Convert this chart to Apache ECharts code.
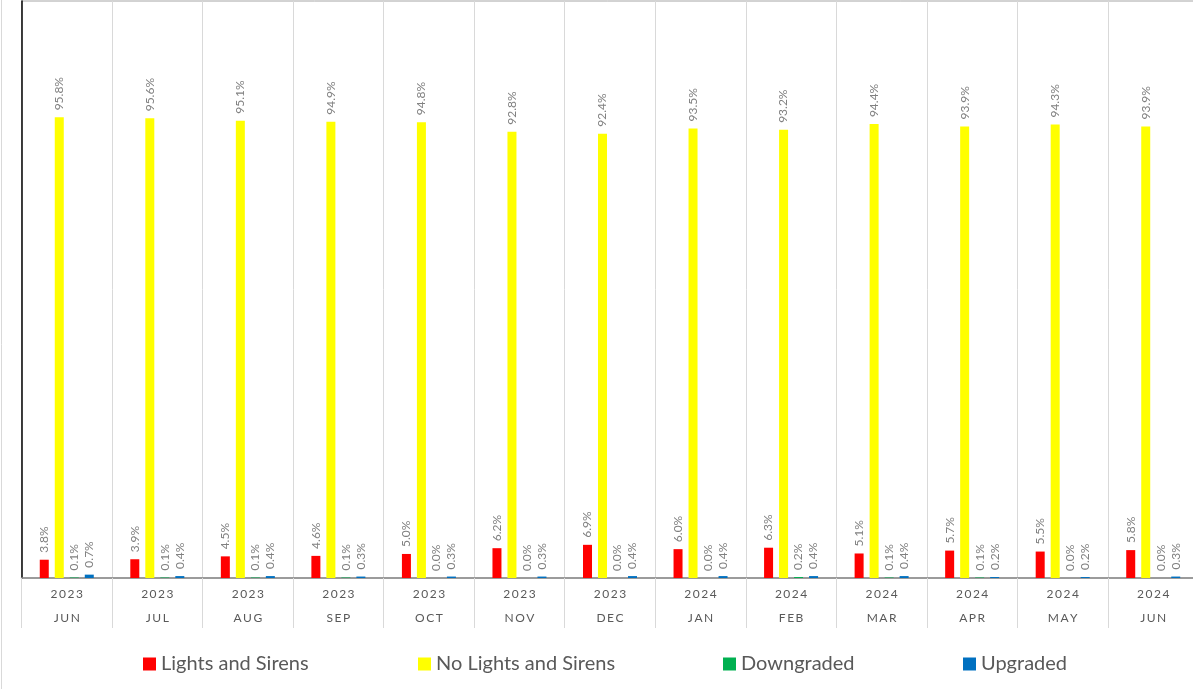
<!DOCTYPE html>
<html>
<head>
<meta charset="utf-8">
<script src="https://cdn.jsdelivr.net/npm/echarts@6/dist/echarts.min.js"></script>
<style>
html,body{margin:0;padding:0;background:#fff;}
#main{width:1193px;height:689px;}
</style>
</head>
<body>
<div id="main"></div>
<script>
const years = ['2023','2023','2023','2023','2023','2023','2023','2024','2024','2024','2024','2024','2024'];
const months = ['JUN','JUL','AUG','SEP','OCT','NOV','DEC','JAN','FEB','MAR','APR','MAY','JUN'];
const lightsAndSirens = [3.8,3.9,4.5,4.6,5.0,6.2,6.9,6.0,6.3,5.1,5.7,5.5,5.8];
const noLightsAndSirens = [95.8,95.6,95.1,94.9,94.8,92.8,92.4,93.5,93.2,94.4,93.9,94.3,93.9];
const downgraded = [0.1,0.1,0.1,0.1,0.0,0.0,0.0,0.0,0.2,0.1,0.1,0.0,0.0];
const upgraded = [0.7,0.4,0.4,0.3,0.3,0.3,0.4,0.4,0.4,0.4,0.2,0.2,0.3];
const seriesNames = ['Lights and Sirens','No Lights and Sirens','Downgraded','Upgraded'];

const categories = years.map((y,i)=>y+'\n'+months[i]);
const FONT = 'Lato, "Open Sans", sans-serif';
const spaced = s => s.split('').join('\u2009');

const colors = ['#FF0000','#FFFF00','#00B050','#0070C0'];
const values = [lightsAndSirens, noLightsAndSirens, downgraded, upgraded];

const chart = echarts.init(document.getElementById('main'));
const legendLefts = [143, 418, 723, 963];

chart.setOption({
  animation:false,
  backgroundColor:'#fff',
  textStyle:{fontFamily:FONT},
  legend: seriesNames.map((n,i)=>({
    data:[n], left:legendLefts[i], top:654, padding:0, itemWidth:13, itemHeight:13, itemGap:0,
    icon:'rect', textStyle:{fontSize:20, color:'#595959', fontFamily:FONT}
  })),
  grid:{left:21.5, top:1, width:1177, height:577, outerBoundsMode:'none', containLabel:false,
    show:true, borderColor:'#a6a6a6', borderWidth:1},
  xAxis:{
    type:'category', data:categories,
    axisLine:{show:true, lineStyle:{color:'#898989', width:1.5}},
    axisTick:{show:true, length:50, lineStyle:{color:'#d9d9d9'}},
    splitLine:{show:true, lineStyle:{color:'#d9d9d9'}},
    axisLabel:{
      margin:4, lineHeight:24, fontSize:12, color:'#595959', fontFamily:FONT,
      formatter:(v,i)=>spaced(years[i])+'\n'+spaced(months[i])
    }
  },
  yAxis:{
    type:'value', min:0, max:120,
    axisLine:{show:true, lineStyle:{color:'#000', width:1.5}},
    axisTick:{show:false}, axisLabel:{show:false}, splitLine:{show:false}
  },
  graphic:[{type:'line', shape:{x1:1.5,y1:0,x2:1.5,y2:689}, style:{stroke:'#d9d9d9', lineWidth:1}}],
  series: seriesNames.map((n,i)=>({
    name:n, type:'bar', data:values[i], barWidth:9, barGap:'66.7%',
    itemStyle:{color:colors[i]},
    label:{show:true, position:'top', rotate:90, distance:7, align:'left', verticalAlign:'middle',
      fontSize:12, color:'#808080', fontFamily:FONT,
      formatter:p=>p.value.toFixed(1)+'%'}
  }))
});
</script>
</body>
</html>
